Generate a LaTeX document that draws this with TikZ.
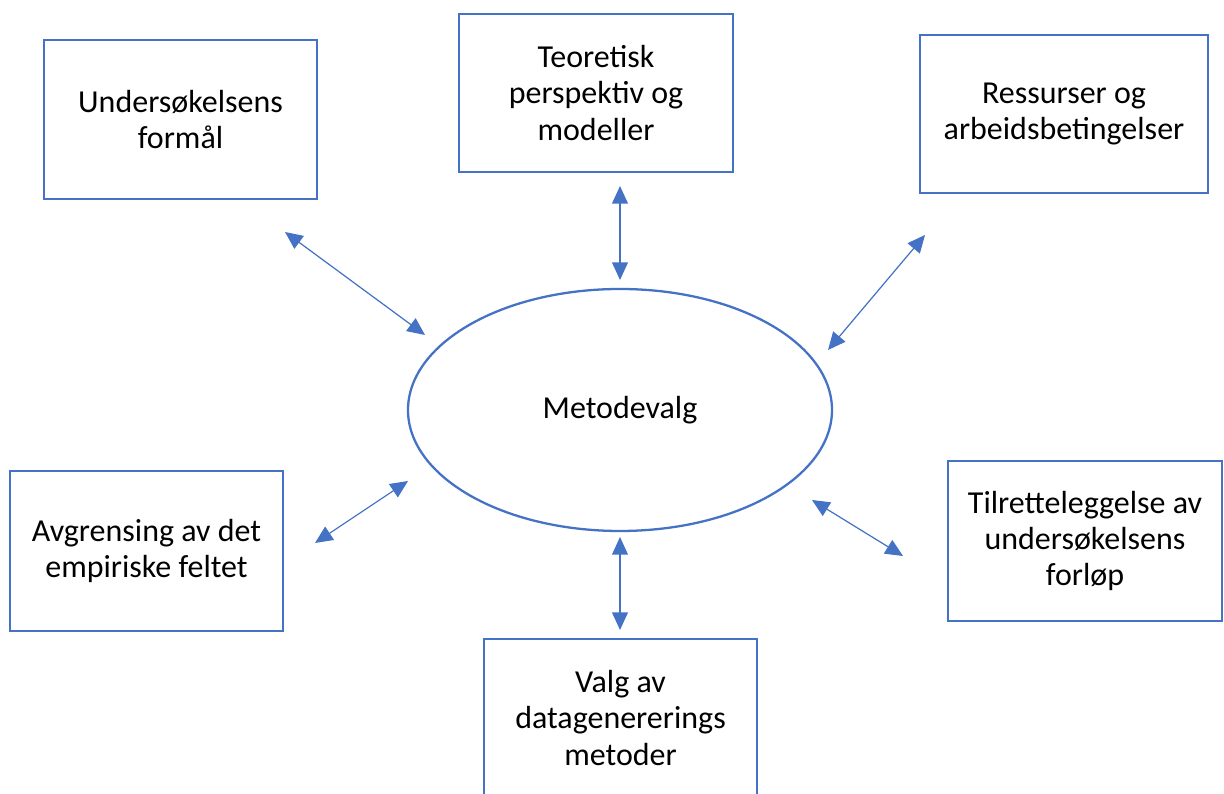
\documentclass[tikz,border=0pt]{standalone}
\usepackage{fontspec}
\setmainfont{Carlito}
\usepackage{xcolor}
\usetikzlibrary{arrows.meta,shapes.geometric}
\definecolor{lineBlue}{RGB}{68,114,196}
\definecolor{textDark}{RGB}{0,0,0}

\tikzset{
  topic/.style={draw=lineBlue, line width=1.3pt, align=center,
    font=\fontsize{18.2}{20.6}\selectfont, text=textDark},
  link/.style={draw=lineBlue, line width=0.7pt,
    {Triangle[length=10pt,width=9pt]}-{Triangle[length=10pt,width=9pt]}, lineBlue}
}

\begin{document}
\begin{tikzpicture}
\useasboundingbox (0,0) rectangle (24.48, 15.88);

% Centre
\node[topic, ellipse, minimum width=8.48cm, minimum height=4.84cm, inner sep=0pt]
    (valg) at (12.40, 7.68) {Metodevalg};

% Surrounding boxes
\node[topic, minimum width=5.46cm, minimum height=3.18cm] (formal) at (3.61, 13.49)
    {Undersøkelsens\\formål};
\node[topic, minimum width=5.48cm, minimum height=3.16cm] (teori) at (11.92, 14.02)
    {Teoretisk\\perspektiv og\\modeller};
\node[topic, minimum width=5.76cm, minimum height=3.16cm] (ressurs) at (21.28, 13.60)
    {Ressurser og\\arbeidsbetingelser};
\node[topic, minimum width=5.46cm, minimum height=3.20cm] (felt) at (2.93, 4.86)
    {Avgrensing av det\\empiriske feltet};
\node[topic, minimum width=5.48cm, minimum height=3.20cm] (forlop) at (21.70, 5.06)
    {Tilretteleggelse av\\undersøkelsens\\forløp};
\node[topic, minimum width=5.46cm, minimum height=3.16cm] (data) at (12.41, 1.52)
    {Valg av\\datagenererings\\metoder};

% Arrow ends
\coordinate (formalA) at (5.70, 11.24);  \coordinate (formalB) at (8.50, 9.18);
\coordinate (teoriA) at (12.40, 12.16);  \coordinate (teoriB) at (12.40, 10.28);
\coordinate (ressursA) at (18.50, 11.18); \coordinate (ressursB) at (16.56, 8.88);
\coordinate (feltA) at (6.30, 5.02);     \coordinate (feltB) at (8.16, 6.26);
\coordinate (dataA) at (12.40, 5.14);    \coordinate (dataB) at (12.40, 3.28);
\coordinate (forlopA) at (16.24, 5.88);  \coordinate (forlopB) at (18.06, 4.76);

% Links
\draw[link] (formalA) -- (formalB);
\draw[link] (teoriA) -- (teoriB);
\draw[link] (ressursA) -- (ressursB);
\draw[link] (feltA) -- (feltB);
\draw[link] (dataA) -- (dataB);
\draw[link] (forlopA) -- (forlopB);

\end{tikzpicture}
\end{document}
